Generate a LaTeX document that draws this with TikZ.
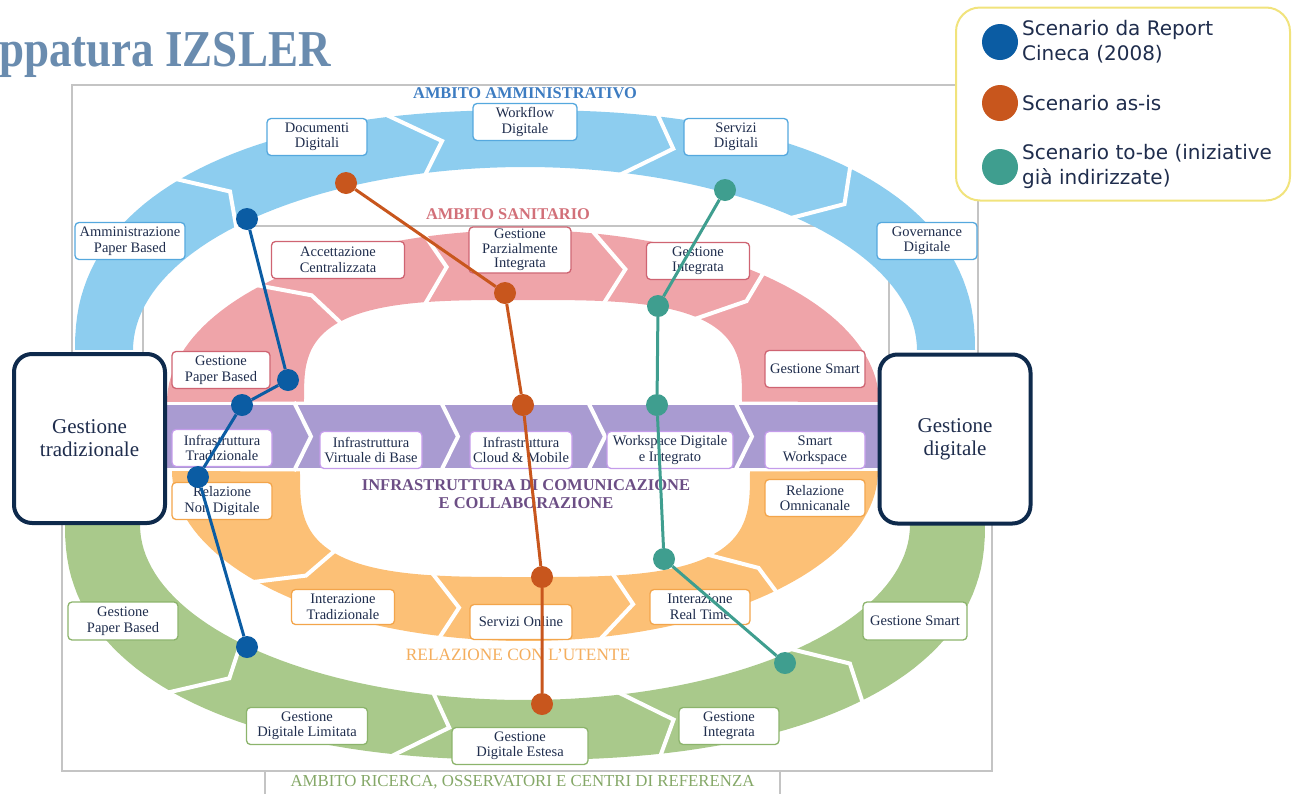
\documentclass[tikz,border=0pt]{standalone}
\usepackage{fontspec}
\setmainfont{Liberation Serif}
\newfontfamily\legendfont{DejaVu Sans}
\definecolor{ambblue}{HTML}{8DCDEF}
\definecolor{ambblueline}{HTML}{55A8DE}
\definecolor{ambbluetext}{HTML}{3D7CC1}
\definecolor{sanpink}{HTML}{EFA4A9}
\definecolor{sanpinkline}{HTML}{CF6472}
\definecolor{sanpinktext}{HTML}{D27079}
\definecolor{infpurple}{HTML}{A99BD1}
\definecolor{infpurpleline}{HTML}{C49CEB}
\definecolor{infpurpletext}{HTML}{6C4E85}
\definecolor{relorange}{HTML}{FCC076}
\definecolor{relorangeline}{HTML}{F3A54B}
\definecolor{relorangetext}{HTML}{F4AE5E}
\definecolor{ricgreen}{HTML}{A9C98B}
\definecolor{ricgreenline}{HTML}{8CB46C}
\definecolor{ricgreentext}{HTML}{85A868}
\definecolor{navy}{HTML}{1F2D4D}
\definecolor{boxnavy}{HTML}{0E2A4C}
\definecolor{titleblue}{HTML}{6A8CAF}
\definecolor{legendyellow}{HTML}{F1E37C}
\definecolor{dotblue}{HTML}{0B5CA3}
\definecolor{dotorange}{HTML}{C8561D}
\definecolor{dotteal}{HTML}{3F9E8F}
\definecolor{framegray}{HTML}{C4C4C4}

\begin{document}
\begin{tikzpicture}
  [x=1pt,y=-1pt,
   declare function={sx(\t,\q)=cos(\t)/max(abs(cos(\t)),0.001)*pow(max(abs(cos(\t)),0.0001),\q);
                     sy(\t,\q)=pow(max(abs(sin(\t)),0.0001),\q);},
   framing/.style={draw=framegray,line width=1.2pt},
   chev/.style={draw=white,line width=4pt,line join=miter},
   lbl/.style={draw=#1,fill=white,rounded corners=4pt,line width=1.3pt,
     minimum width=100pt,minimum height=37pt,inner sep=1pt,align=center,
     text=navy,font=\fontsize{14.5}{15.5}\selectfont},
   bigbox/.style={draw=boxnavy,line width=4pt,rounded corners=18pt,fill=white,
     minimum width=151pt,minimum height=169pt,align=center,text=navy,
     font=\fontsize{21}{23}\selectfont},
   ambito/.style={text=#1,inner sep=0pt,font=\fontsize{17.3}{19}\selectfont},
   scen/.style={circle,fill=#1,minimum size=22pt,inner sep=0pt},
   track/.style={draw=#1,line width=3pt},
   legdot/.style={circle,fill=#1,minimum size=36pt,inner sep=0pt},
   legtxt/.style={anchor=west,align=left,inner sep=0pt,text=navy,
     font=\legendfont\fontsize{20}{25}\selectfont}]
\useasboundingbox (0,0) rectangle (1299,793);

\draw[framing] (72,440) -- (72,85) -- (978,85) -- (978,440);
\draw[framing] (143,440) -- (143,226) -- (889,226) -- (889,440);
\draw[framing] (62,480) -- (62,771) -- (992,771) -- (992,480);

\fill[ambblue] plot[domain=0:180,samples=90] ({525-450*sx(\x,0.87)},{350-240*sy(\x,0.87)})
  -- plot[domain=180:0,samples=90] ({525-392*sx(\x,1)},{350-183*sy(\x,1)}) -- cycle;
\fill[ricgreen] plot[domain=0:180,samples=90] ({525-460*sx(\x,0.87)},{525+235*sy(\x,0.87)})
  -- plot[domain=180:0,samples=90] ({525-385*sx(\x,1)},{525+175*sy(\x,1)}) -- cycle;
\fill[sanpink] plot[domain=0:180,samples=90] ({523-356*sx(\x,1)},{402-172*sy(\x,1)})
  -- plot[domain=180:0,samples=90] ({523-219*sx(\x,0.6)},{402-102*sy(\x,0.6)}) -- cycle;
\fill[relorange] plot[domain=0:180,samples=90] ({525-353*sx(\x,1)},{471+170*sy(\x,1)})
  -- plot[domain=180:0,samples=90] ({525-225*sx(\x,0.6)},{471+106*sy(\x,0.6)}) -- cycle;
\fill[infpurple] (165,405) rectangle (880,468);

\foreach \s in {42,75,104,133}
  \draw[chev] ({525-388*sx(\s,1)},{350-180*sy(\s,1)}) -- ({525-421*sx(\s+5,0.93)},{350-212*sy(\s+5,0.93)})
    -- ({525-454*sx(\s,0.87)},{350-243*sy(\s,0.87)});
\foreach \s in {42,76,104,134}
  \draw[chev] ({525-381*sx(\s,1)},{525+172*sy(\s,1)}) -- ({525-422*sx(\s+5,0.93)},{525+205*sy(\s+5,0.93)})
    -- ({525-464*sx(\s,0.87)},{525+238*sy(\s,0.87)});
\foreach \s in {42,74,101,132}
  \draw[chev] ({523-215*sx(\s,0.6)},{402-98*sy(\s,0.6)}) -- ({523-287*sx(\s+5,0.8)},{402-137*sy(\s+5,0.8)})
    -- ({523-360*sx(\s,1)},{402-175*sy(\s,1)});
\foreach \s in {40,76,102,135}
  \draw[chev] ({525-221*sx(\s,0.6)},{471+102*sy(\s,0.6)}) -- ({525-289*sx(\s+5,0.8)},{471+138*sy(\s+5,0.8)})
    -- ({525-357*sx(\s,1)},{471+173*sy(\s,1)});
\foreach \c in {294,441,588,735}
  \draw[chev] (\c,402) -- (\c+17,436.5) -- (\c,471);

\node[ambito=ambbluetext,font=\bfseries\fontsize{16.4}{19}\selectfont] (hamm) at (525,93) {AMBITO AMMINISTRATIVO};
\node[ambito=sanpinktext,font=\bfseries\fontsize{16.4}{19}\selectfont] (hsan) at (508,214) {AMBITO SANITARIO};
\node[ambito=infpurpletext,align=center,font=\bfseries\fontsize{16.5}{18}\selectfont] (hinf) at (526,494)
  {INFRASTRUTTURA DI COMUNICAZIONE\\E COLLABORAZIONE};
\node[ambito=relorangetext] (hrel) at (518,655) {RELAZIONE CON L'UTENTE};

\node[lbl=ambblueline,minimum width=110pt] (amm1) at (130,241) {Amministrazione\\Paper Based};
\node[lbl=ambblueline] (amm2) at (317,137) {Documenti\\Digitali};
\node[lbl=ambblueline,minimum width=104pt] (amm3) at (525,122) {Workflow\\Digitale};
\node[lbl=ambblueline,minimum width=104pt] (amm4) at (736,137) {Servizi\\Digitali};
\node[lbl=ambblueline] (amm5) at (927,241) {Governance\\Digitale};

\node[lbl=sanpinkline,minimum width=98pt] (san1) at (221,370) {Gestione\\Paper Based};
\node[lbl=sanpinkline,minimum width=133pt] (san2) at (338,260) {Accettazione\\Centralizzata};
\node[lbl=sanpinkline,minimum width=102pt,minimum height=46pt,font=\fontsize{14.5}{14.5}\selectfont] (san3) at (520,250)
  {Gestione\\Parzialmente\\Integrata};
\node[lbl=sanpinkline,minimum width=103pt] (san4) at (698,261) {Gestione\\Integrata};
\node[lbl=sanpinkline] (san5) at (815,369) {Gestione Smart};

\node[lbl=infpurpleline] (inf1) at (222,448) {Infrastruttura\\Tradizionale};
\node[lbl=infpurpleline,minimum width=102pt] (inf2) at (371,450) {Infrastruttura\\Virtuale di Base};
\node[lbl=infpurpleline,minimum width=102pt] (inf3) at (521,450) {Infrastruttura\\Cloud \& Mobile};
\node[lbl=infpurpleline,minimum width=126pt] (inf4) at (670,450) {Workspace Digitale\\e Integrato};
\node[lbl=infpurpleline] (inf5) at (815,450) {Smart\\Workspace};

\node[lbl=relorangeline] (rel1) at (222,501) {Relazione\\Non Digitale};
\node[lbl=relorangeline,minimum width=103pt,minimum height=35pt] (rel2) at (343,607) {Interazione\\Tradizionale};
\node[lbl=relorangeline,minimum width=102pt,minimum height=35pt] (rel3) at (521,622) {Servizi Online};
\node[lbl=relorangeline,minimum height=35pt] (rel4) at (700,607) {Interazione\\Real Time};
\node[lbl=relorangeline] (rel5) at (815,498) {Relazione\\Omnicanale};

\node[lbl=ricgreenline,minimum width=110pt,minimum height=38pt] (ric1) at (123,621) {Gestione\\Paper Based};
\node[lbl=ricgreenline,minimum width=121pt] (ric2) at (307,726) {Gestione\\Digitale Limitata};
\node[lbl=ricgreenline,minimum width=136pt] (ric3) at (520,746) {Gestione\\Digitale Estesa};
\node[lbl=ricgreenline] (ric4) at (729,726) {Gestione\\Integrata};
\node[lbl=ricgreenline,minimum width=104pt,minimum height=38pt] (ric5) at (915,621) {Gestione Smart};

\node[bigbox] (trad) at (89.5,438.5) {Gestione\\tradizionale};
\node[bigbox] (dig) at (955,439) {Gestione\\digitale};

\node[framing,fill=white,minimum width=515pt,anchor=north,inner xsep=0pt,inner ysep=3pt,
  text height=11.5pt,text depth=15pt,text=ricgreentext,font=\fontsize{16.8}{18}\selectfont] (hric) at (522.5,771)
  {AMBITO RICERCA, OSSERVATORI E CENTRI DI REFERENZA};

\node[anchor=base west,inner sep=0pt,text=titleblue,font=\bfseries\fontsize{45}{45}\selectfont] (title) at (-1,66)
  {\scalebox{1}[1.15]{ppatura IZSLER}};

\node[draw=legendyellow,line width=2pt,rounded corners=24pt,fill=white,minimum width=334pt,minimum height=193pt] (legend) at (1123,104) {};
\node[legdot=dotblue] (leg1) at (1000,42) {};
\node[legdot=dotorange] (leg2) at (1000,103) {};
\node[legdot=dotteal] (leg3) at (1000,167) {};
\node[legtxt] (legt1) at (1022,42) {Scenario da Report\\Cineca (2008)};
\node[legtxt] (legt2) at (1022,103) {Scenario as-is};
\node[legtxt] (legt3) at (1022,166) {Scenario to-be (iniziative\\già indirizzate)};

\node[scen=dotblue] (b1) at (247,219) {};
\node[scen=dotblue] (b2) at (288,380) {};
\node[scen=dotblue] (b3) at (242,405) {};
\node[scen=dotblue] (b4) at (198,477) {};
\node[scen=dotblue] (b5) at (247,647) {};
\node[scen=dotorange] (o1) at (346,183) {};
\node[scen=dotorange] (o2) at (505,293) {};
\node[scen=dotorange] (o3) at (523,405) {};
\node[scen=dotorange] (o4) at (542,577) {};
\node[scen=dotorange] (o5) at (542,704) {};
\node[scen=dotteal] (t1) at (725,190) {};
\node[scen=dotteal] (t2) at (658,306) {};
\node[scen=dotteal] (t3) at (657,405) {};
\node[scen=dotteal] (t4) at (664,559) {};
\node[scen=dotteal] (t5) at (785,663) {};

\draw[track=dotblue] (b1) -- (b2) -- (b3) -- (b4) -- (b5);
\draw[track=dotorange] (o1) -- (o2) -- (o3) -- (o4) -- (o5);
\draw[track=dotteal] (t1) -- (t2) -- (t3) -- (t4) -- (t5);

\end{tikzpicture}
\end{document}
